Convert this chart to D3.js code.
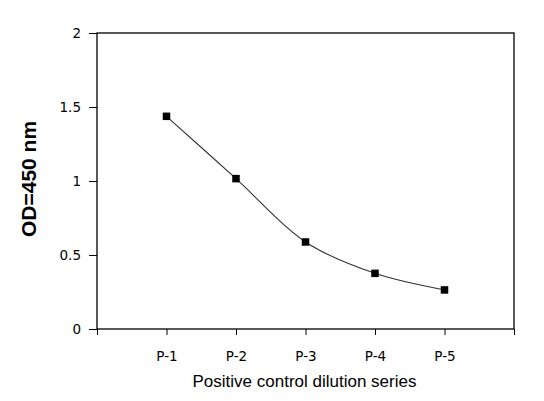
<!DOCTYPE html>
<html>
<head>
<meta charset="utf-8">
<script src="https://cdn.jsdelivr.net/npm/d3@7"></script>
<style>
  html, body { margin: 0; padding: 0; background: #fff; }
  svg { display: block; }
</style>
</head>
<body>
<svg id="chart" width="544" height="401"></svg>
<script>
/*** DATA ***/
let categories = ["P-1", "P-2", "P-3", "P-4", "P-5"];
let odValues   = [1.437, 1.016, 0.588, 0.376, 0.264];
let yTicks     = [0, 0.5, 1, 1.5, 2];

/*** LAYOUT ***/
let margin = {top: 33, right: 30, bottom: 72, left: 97},
    width  = 544 - margin.left - margin.right,
    height = 401 - margin.top - margin.bottom;

let svg = d3.select("#chart");
let g = svg.append("g").attr("transform", `translate(${margin.left},${margin.top})`);

// x: categories sit at 1..5, with an empty slot at each end
let x = d3.scaleLinear().domain([0, categories.length + 1]).range([0, width]),
    y = d3.scaleLinear().domain([0, 2]).range([height, 0]);

let tickFont = "'DejaVu Sans', Verdana, sans-serif";

// y axis
let yAxis = g.append("g")
    .call(d3.axisLeft(y).tickValues(yTicks).tickSize(8).tickPadding(8)
        .tickFormat(d => d3.format("~g")(d)));
yAxis.selectAll("text").style("font-family", tickFont).style("font-size", "13.5px").attr("fill", "#000");

// x axis, tick marks at every slot, labels only on categories
let xAxis = g.append("g")
    .attr("transform", `translate(0,${height})`)
    .call(d3.axisBottom(x).tickValues(d3.range(0, categories.length + 2)).tickSize(6).tickPadding(16)
        .tickFormat(d => (d >= 1 && d <= categories.length) ? categories[d - 1] : ""));
xAxis.selectAll("text").style("font-family", tickFont).style("font-size", "13.5px").attr("fill", "#000");

[yAxis, xAxis].forEach(a => {
    a.select(".domain").remove();
    a.selectAll("line").attr("stroke", "#000");
});

// plot frame
g.append("rect")
    .attr("x", 0).attr("y", 0)
    .attr("width", width).attr("height", height)
    .attr("fill", "none").attr("stroke", "#000").attr("stroke-width", 1.3);

// smoothed line
let line = d3.line()
    .x((d, i) => x(i + 1))
    .y(d => y(d))
    .curve(d3.curveCatmullRom.alpha(0.5));

g.append("path")
    .datum(odValues)
    .attr("d", line)
    .attr("fill", "none")
    .attr("stroke", "#333")
    .attr("stroke-width", 1.1);

// square markers
let ms = 7.5;
g.selectAll("rect.marker")
    .data(odValues)
    .enter().append("rect")
    .attr("class", "marker")
    .attr("x", (d, i) => x(i + 1) - ms / 2)
    .attr("y", d => y(d) - ms / 2)
    .attr("width", ms).attr("height", ms)
    .attr("fill", "#000");

// axis titles
svg.append("text")
    .attr("x", margin.left + width / 2 - 1)
    .attr("y", 387)
    .attr("text-anchor", "middle")
    .style("font-family", "'Liberation Sans', Arial, sans-serif")
    .style("font-size", "17px")
    .text("Positive control dilution series");

svg.append("text")
    .attr("transform", "translate(36,179) rotate(-90)")
    .attr("text-anchor", "middle")
    .style("font-family", "'Liberation Sans', Arial, sans-serif")
    .style("font-size", "21px")
    .style("font-weight", "bold")
    .text("OD=450 nm");
</script>
</body>
</html>
